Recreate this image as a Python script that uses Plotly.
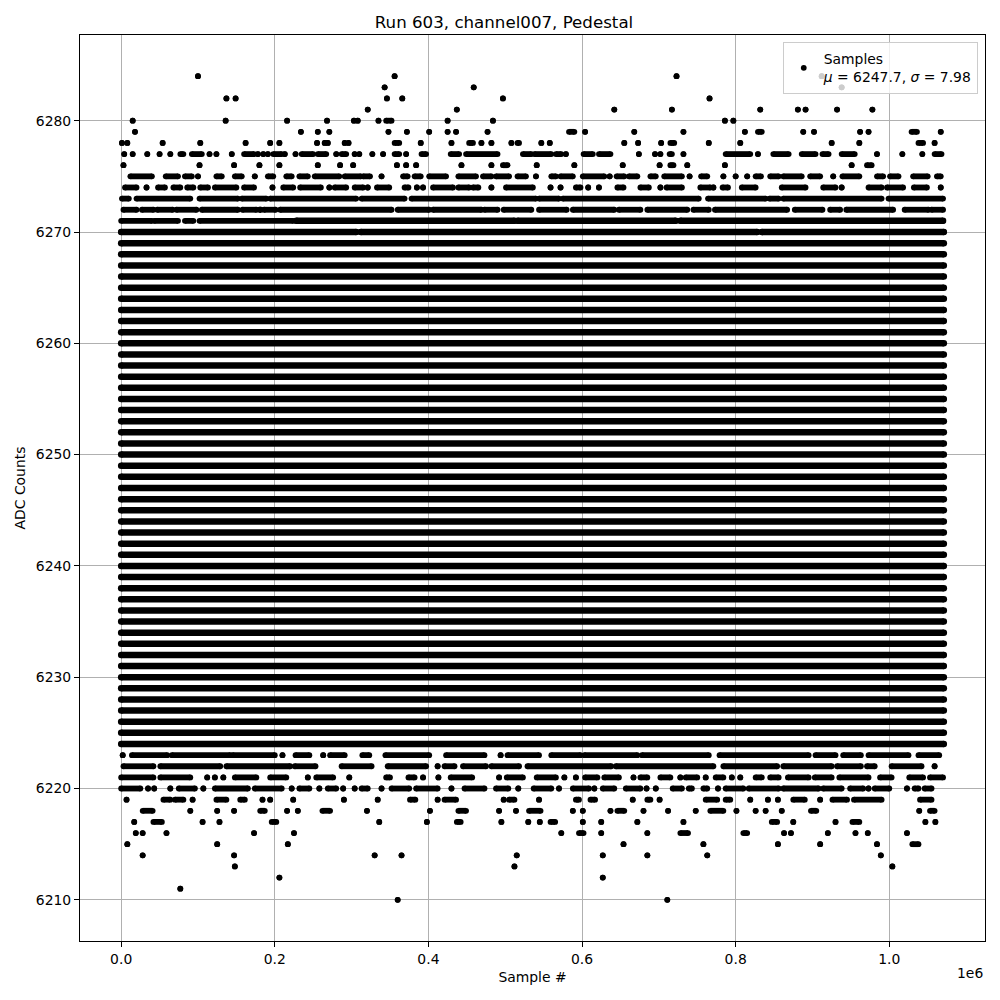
import plotly.graph_objects as go

# ---- data (x in units of 1e6 samples; single numbers = single dots, tuples = runs of contiguous dots)
x_end = 1.071
dense_levels = [6224, 6225, 6226, 6227, 6228, 6229, 6230, 6231, 6232, 6233, 6234, 6235,
                6236, 6237, 6238, 6239, 6240, 6241, 6242, 6243, 6244, 6245, 6246, 6247,
                6248, 6249, 6250, 6251, 6252, 6253, 6254, 6255, 6256, 6257, 6258, 6259,
                6260, 6261, 6262, 6263, 6264, 6265, 6266, 6267, 6268, 6269]

r6284 = [0.100, 0.356, 0.723, 0.912]
r6283 = [0.343, 0.459, 0.938]
r6282 = [0.137, 0.149, 0.346, 0.366, 0.497, 0.766]
r6281 = [0.321, 0.437, 0.642, 0.717, 0.832, 0.881, 0.891, 0.932, 0.978]
r6280 = [0.015, 0.136, 0.216, 0.268, 0.303, 0.308, 0.335, (0.345, 0.352), 0.425, 0.484, 0.786, 0.797]
r6279 = [0.018, 0.234, 0.256, 0.271, 0.348, 0.372, 0.401, 0.425, 0.436, 0.477, (0.583, 0.590), 0.604,
         0.668, 0.732, 0.812, (0.829, 0.834), 0.888, 0.902, 0.962, 0.973, (1.029, 1.036), 1.067]
r6278 = [0.001, 0.008, 0.054, 0.103, 0.162, 0.194, 0.206, 0.255, 0.265, 0.269, 0.291, 0.296,
         (0.356, 0.362), 0.390, 0.430, (0.453, 0.458), 0.469, 0.482, 0.508, (0.516, 0.518), 0.547,
         0.558, 0.655, 0.673, 0.703, (0.715, 0.720), 0.765, 0.806, 0.925, 0.961, (1.038, 1.044), 1.059]
r6277 = [0.004, 0.015, 0.034, 0.050, 0.064, (0.077, 0.081), (0.092, 0.105), 0.115, 0.124, 0.144,
         (0.160, 0.173), 0.178, 0.185, 0.191, (0.198, 0.209), 0.213, 0.227, (0.235, 0.250),
         (0.256, 0.267), 0.280, (0.287, 0.293), 0.304, 0.310, 0.327, 0.341, (0.356, 0.362), 0.371,
         (0.391, 0.397), (0.429, 0.440), (0.449, 0.490), (0.523, 0.534), (0.538, 0.560),
         (0.566, 0.573), 0.579, (0.602, 0.614), (0.622, 0.637), 0.674, 0.695, 0.702, (0.714, 0.717),
         0.732, (0.787, 0.819), 0.829, (0.849, 0.869), (0.886, 0.904), (0.913, 0.921),
         (0.938, 0.955), 0.984, 1.017, 1.043, (1.059, 1.068)]
r6276 = [0.003, 0.102, 0.147, 0.180, 0.206, 0.256, 0.285, 0.302, 0.359, 0.371, 0.384, 0.443, 0.482,
         (0.497, 0.503), 0.541, 0.590, 0.653, 0.701, (0.715, 0.719), 0.737, 0.786, 0.951, (0.971, 0.977)]
r6275 = [(0.012, 0.040), (0.058, 0.074), (0.083, 0.092), 0.100, (0.124, 0.131), (0.148, 0.157), 0.174,
         (0.191, 0.198), (0.215, 0.222), (0.232, 0.243), (0.252, 0.284), (0.291, 0.312),
         (0.315, 0.324), 0.339, (0.367, 0.373), (0.382, 0.390), (0.401, 0.423), (0.439, 0.462),
         (0.471, 0.482), (0.488, 0.505), (0.516, 0.527), 0.540, (0.560, 0.566), (0.572, 0.588),
         (0.601, 0.629), 0.636, (0.645, 0.655), (0.661, 0.672), (0.689, 0.696), (0.707, 0.730), 0.740,
         (0.755, 0.763), 0.784, 0.800, 0.815, (0.826, 0.833), (0.845, 0.856), (0.862, 0.886),
         (0.897, 0.910), 0.927, (0.939, 0.961), (0.984, 0.992), (1.001, 1.012), (1.031, 1.050),
         (1.062, 1.067)]
r6274 = [(0.005, 0.020), 0.033, (0.048, 0.057), (0.068, 0.077), (0.086, 0.094), (0.103, 0.113),
         (0.122, 0.150), (0.160, 0.173), 0.197, (0.211, 0.224), (0.233, 0.260), 0.271, (0.278, 0.293),
         (0.304, 0.315), 0.321, (0.333, 0.349), (0.369, 0.374), 0.385, 0.393, (0.406, 0.432),
         (0.439, 0.453), (0.458, 0.465), 0.482, (0.501, 0.536), 0.559, 0.572, (0.592, 0.598), 0.608,
         0.622, (0.646, 0.654), (0.676, 0.687), 0.702, (0.710, 0.730), (0.754, 0.767), 0.771,
         (0.783, 0.790), (0.808, 0.826), (0.860, 0.891), (0.914, 0.930), 0.938, (0.973, 0.990),
         (0.997, 1.018), (1.032, 1.049), 1.067]
r6273 = [(0.001, 0.010), (0.020, 0.090), (0.102, 0.152), (0.157, 0.189), (0.194, 0.306), (0.313, 0.369),
         (0.378, 0.540), (0.544, 0.570), (0.575, 0.752), (0.764, 0.839), (0.844, 0.856), (0.862, 0.990),
         (0.999, 1.070)]
r6272 = [(0.003, 0.020), (0.027, 0.042), (0.047, 0.067), (0.072, 0.098), (0.105, 0.152), (0.158, 0.176),
         (0.180, 0.182), (0.186, 0.201), (0.207, 0.352), (0.360, 0.401), (0.406, 0.469), (0.473, 0.490),
         (0.498, 0.534), (0.544, 0.580), (0.588, 0.642), (0.648, 0.676), (0.685, 0.737), (0.745, 0.765),
         (0.773, 0.867), (0.877, 0.913), (0.923, 0.936), (0.944, 1.005), (1.020, 1.051), (1.055, 1.070)]
r6271 = [(0.0, 0.040), (0.043, 0.074), (0.083, 0.094), (0.102, 0.224), (0.228, 0.512), (0.516, 0.722),
         (0.728, 1.070)]
r6270 = [(0.0, 0.306), (0.312, 0.828), (0.834, 1.071)]

r6223 = [0.002, (0.014, 0.060), (0.066, 0.142), (0.145, 0.200), 0.210, (0.227, 0.245), 0.263,
         (0.272, 0.291), (0.314, 0.323), (0.344, 0.401), (0.423, 0.473), 0.494, (0.503, 0.544),
         (0.560, 0.598), (0.603, 0.672), (0.678, 0.765), (0.779, 0.895), (0.904, 0.930), (0.940, 0.963),
         (0.973, 1.025), (1.038, 1.065)]
r6222 = [(0.003, 0.042), (0.051, 0.129), (0.137, 0.220), (0.226, 0.253), (0.287, 0.326), (0.347, 0.397),
         0.412, (0.421, 0.434), (0.445, 0.475), (0.482, 0.518), (0.529, 0.638), (0.644, 0.771),
         (0.784, 0.854), (0.862, 0.925), (0.932, 0.963), (0.971, 0.981), (1.003, 1.042), 1.059]
r6221 = [(0.0, 0.042), (0.051, 0.090), 0.112, 0.122, 0.133, (0.148, 0.176), (0.194, 0.215), 0.243,
         (0.254, 0.276), 0.297, (0.345, 0.350), (0.374, 0.382), 0.393, 0.413, (0.429, 0.457), 0.492,
         (0.502, 0.523), (0.541, 0.566), 0.577, 0.592, (0.604, 0.620), (0.629, 0.648), 0.667,
         (0.676, 0.685), (0.702, 0.715), 0.728, (0.735, 0.750), 0.761, (0.774, 0.784), 0.795, 0.806,
         (0.826, 0.834), (0.845, 0.856), (0.868, 0.895), (0.903, 0.925), (0.935, 0.973), (0.988, 1.003),
         (1.026, 1.044), (1.053, 1.070)]
r6220 = [(0.0, 0.025), 0.035, 0.043, 0.064, (0.075, 0.096), 0.107, (0.122, 0.165), (0.174, 0.209), 0.222,
         (0.232, 0.245), 0.258, (0.269, 0.280), 0.289, 0.304, (0.313, 0.321), 0.339, (0.352, 0.375),
         (0.384, 0.412), 0.430, (0.447, 0.473), (0.488, 0.504), 0.517, (0.537, 0.560), 0.570,
         (0.588, 0.609), 0.616, (0.627, 0.642), (0.657, 0.676), 0.684, 0.696, (0.718, 0.730),
         (0.739, 0.743), (0.758, 0.763), 0.777, (0.787, 0.810), (0.817, 0.856), (0.862, 0.908),
         (0.914, 0.938), (0.949, 0.966), 0.973, (0.981, 1.000), 1.023, (1.033, 1.038), (1.046, 1.055)]
r6219 = [0.007, (0.055, 0.064), (0.070, 0.081), 0.093, (0.124, 0.137), (0.155, 0.161), 0.184, 0.194, 0.224,
         0.290, 0.334, (0.376, 0.383), 0.412, (0.421, 0.436), 0.498, (0.505, 0.512), 0.544, (0.592, 0.596),
         (0.611, 0.617), 0.666, (0.685, 0.689), 0.701, (0.761, 0.776), (0.787, 0.793), 0.819, 0.842,
         0.855, (0.875, 0.890), 0.910, (0.926, 0.945), (0.954, 0.990), (1.040, 1.055)]
r6218 = [(0.028, 0.041), 0.090, 0.125, 0.147, (0.181, 0.187), 0.216, 0.230, (0.262, 0.272), 0.320, 0.402,
         (0.439, 0.449), 0.492, 0.514, (0.531, 0.546), 0.588, 0.601, 0.637, (0.646, 0.655), 0.680, 0.712,
         0.748, (0.767, 0.784), 0.801, 0.826, 0.839, 0.860, (0.898, 0.905), 1.039, (1.053, 1.059)]
r6217 = [0.017, (0.042, 0.053), 0.106, 0.128, (0.196, 0.202), 0.336, 0.398, (0.437, 0.442), 0.495, 0.530,
         0.545, (0.559, 0.565), 0.601, 0.625, 0.672, 0.732, (0.847, 0.854), 0.875, 0.930, (0.952, 0.961),
         1.047, 1.060]
r6216 = [0.019, 0.028, 0.059, 0.173, 0.225, 0.573, (0.596, 0.602), 0.625, 0.685, (0.728, 0.738),
         (0.810, 0.815), 0.863, 0.872, 0.920, 0.956, 0.972, 1.023]
r6215 = [0.008, 0.125, 0.217, 0.654, 0.758, 0.855, 0.910, 0.984, (1.030, 1.038)]
r6214 = [0.028, 0.147, 0.330, 0.365, 0.515, 0.627, 0.685, 0.763, 0.989]
r6213 = [0.148, 0.512, 1.004]
r6212 = [0.206, 0.627]
r6211 = [0.077]
r6210 = [0.360, 0.711]

mean_val = 6247.7
sigma_val = 7.98
x_ticks = [0.0, 0.2, 0.4, 0.6, 0.8, 1.0]
y_ticks = [6210, 6220, 6230, 6240, 6250, 6260, 6270, 6280]

sparse_rows = [
    (6284, r6284), (6283, r6283), (6282, r6282), (6281, r6281), (6280, r6280), (6279, r6279),
    (6278, r6278), (6277, r6277), (6276, r6276), (6275, r6275), (6274, r6274), (6273, r6273),
    (6272, r6272), (6271, r6271), (6270, r6270),
    (6223, r6223), (6222, r6222), (6221, r6221), (6220, r6220), (6219, r6219), (6218, r6218),
    (6217, r6217), (6216, r6216), (6215, r6215), (6214, r6214), (6213, r6213), (6212, r6212),
    (6211, r6211), (6210, r6210),
]

# dense rows (jittered overlapping dots look slightly thicker than single dots)
dx, dy = [], []
for lvl in dense_levels:
    dx += [0.0, x_end, None]
    dy += [lvl, lvl, None]
for lvl, row in sparse_rows:
    for item in row:
        if isinstance(item, tuple) and item[1] - item[0] > 0.2:
            dx += [item[0], item[1], None]
            dy += [lvl, lvl, None]

xs, ys = [], []
for lvl, row in sparse_rows:
    for item in row:
        if isinstance(item, tuple):
            a, b = item
        else:
            a, b = item, item
        xs += [a, b, None]
        ys += [lvl, lvl, None]

FONT = "DejaVu Sans, Verdana, sans-serif"
FS = 13.9
fig = go.Figure()
fig.add_trace(go.Scatter(
    x=dx, y=dy, mode="lines+markers", showlegend=False, connectgaps=False,
    line=dict(color="black", width=6.5), marker=dict(color="black", size=6.5),
    hoverinfo="skip",
))
fig.add_trace(go.Scatter(
    x=xs, y=ys, mode="lines+markers", showlegend=False, connectgaps=False,
    line=dict(color="black", width=5.8), marker=dict(color="black", size=5.8),
    hoverinfo="skip",
))
fig.add_trace(go.Scatter(
    x=[None], y=[None], mode="markers", showlegend=True,
    name=f"Samples<br><i>μ</i> = {mean_val}, <i>σ</i> = {sigma_val}",
    marker=dict(color="black", size=5.8),
))

axis_common = dict(
    showline=True, linecolor="black", linewidth=1, mirror=True,
    ticks="outside", ticklen=5, tickcolor="black", tickwidth=1,
    showgrid=True, gridcolor="#b0b0b0", gridwidth=0.8, zeroline=False, automargin=False,
    tickfont=dict(family=FONT, size=FS, color="black"),
)
fig.update_xaxes(range=[-0.0536, 1.1246], tickvals=x_ticks, tickformat=".1f",
                 title=dict(text="Sample #", font=dict(family=FONT, size=FS, color="black"), standoff=6),
                 **axis_common)
fig.update_yaxes(range=[6206.3, 6287.7], tickvals=y_ticks,
                 title=dict(text="ADC Counts", font=dict(family=FONT, size=FS, color="black"), standoff=6),
                 **axis_common)

# the page has an 8px body margin, so the figure is sized/margined to land on the reference pixels
fig.update_layout(
    width=992, height=992,
    margin=dict(l=72, r=15, t=27, b=59),
    plot_bgcolor="white", paper_bgcolor="white",
    font=dict(family=FONT, color="black"),
    title=dict(text="Run 603, channel007, Pedestal", x=0.5, xanchor="center", y=0.986, yanchor="middle",
               font=dict(family=FONT, size=16.67, color="black")),
    legend=dict(x=0.992, y=0.992, xanchor="right", yanchor="top", tracegroupgap=0,
                bgcolor="rgba(255,255,255,0.8)", bordercolor="#cccccc", borderwidth=1,
                font=dict(family=FONT, size=FS, color="black")),
    annotations=[dict(text="1e6", xref="paper", yref="paper", x=1.0, y=0, xanchor="right",
                      yanchor="middle", yshift=-32, showarrow=False,
                      font=dict(family=FONT, size=FS, color="black"))],
)

fig.write_html("out.html")
